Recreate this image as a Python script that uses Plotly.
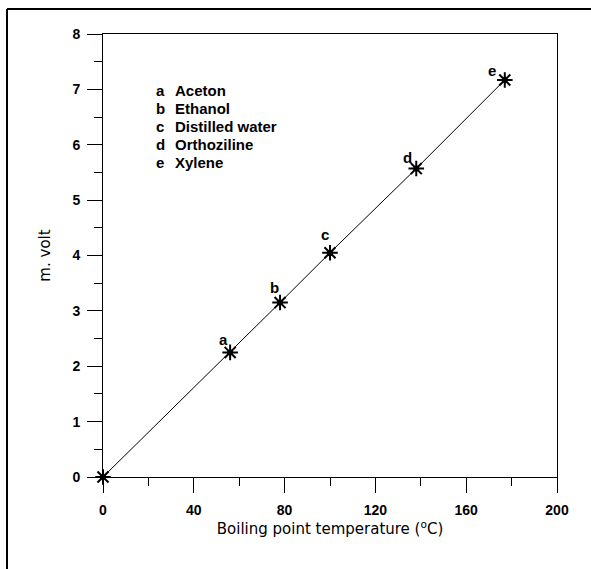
import plotly.graph_objects as go

# Boiling point (°C) against thermocouple output (mV)
temps = [0, 56, 78, 100, 138, 177]
mvolt = [0, 2.25, 3.15, 4.05, 5.57, 7.17]

# Point letters and the liquids they stand for
point_keys = ["a", "b", "c", "d", "e"]
point_x = temps[1:]
point_y = mvolt[1:]
key_shift_x = [-7, -6, -5, -9, -13]
key_shift_y = [13, 15, 18, 11, 9]
liquids = ["Aceton", "Ethanol", "Distilled water", "Orthoziline", "Xylene"]

x_ticks = [0, 40, 80, 120, 160, 200]
y_ticks = [0, 1, 2, 3, 4, 5, 6, 7, 8]

FONT = "Liberation Sans, Arial, sans-serif"

fig = go.Figure()

fig.add_trace(go.Scatter(
    x=temps, y=mvolt, mode="lines+markers",
    line=dict(color="black", width=1),
    marker=dict(symbol="asterisk-open", size=13, color="black",
                line=dict(color="black", width=2)),
    cliponaxis=False, showlegend=False, hoverinfo="skip",
))
fig.add_trace(go.Scatter(
    x=temps, y=mvolt, mode="markers",
    marker=dict(symbol="circle", size=6, color="black"),
    cliponaxis=False, showlegend=False, hoverinfo="skip",
))

# Letters beside each point
for k, x, y, dx, dy in zip(point_keys, point_x, point_y, key_shift_x, key_shift_y):
    fig.add_annotation(x=x, y=y, text=k, showarrow=False, xshift=dx, yshift=dy,
                       font=dict(family=FONT, size=15, color="black", weight="bold"))

# Key listing the liquids
for i, (k, name) in enumerate(zip(point_keys, liquids)):
    ypix = 90 + i * 18.2
    ypaper = (477 - ypix) / 443
    fig.add_annotation(x=(154 - 103) / 454, y=ypaper, xref="paper", yref="paper",
                       text=k, showarrow=False, xanchor="left", yanchor="middle",
                       font=dict(family=FONT, size=15, color="black", weight="bold"))
    fig.add_annotation(x=(173 - 103) / 454, y=ypaper, xref="paper", yref="paper",
                       text=name, showarrow=False, xanchor="left", yanchor="middle",
                       font=dict(family=FONT, size=15, color="black", weight="bold"))

# Outer frame (top and left edges)
fx = (7 - 103) / 454
fy = (477 - 9) / 443
fig.add_shape(type="line", xref="paper", yref="paper", x0=fx, y0=fy, x1=1.2, y1=fy,
              line=dict(color="black", width=2))
fig.add_shape(type="line", xref="paper", yref="paper", x0=fx, y0=fy, x1=fx, y1=-0.4,
              line=dict(color="black", width=2))

axis_common = dict(
    showgrid=False, zeroline=False, showline=True, linecolor="black", linewidth=1,
    mirror=True, ticks="outside", ticklen=15, tickwidth=1, tickcolor="black",
    tickfont=dict(family=FONT, size=14, color="black", weight="bold"),
)

fig.update_xaxes(
    range=[0, 200], tickvals=x_ticks, ticktext=[str(v) for v in x_ticks],
    minor=dict(ticks="outside", ticklen=8, dtick=20, tickcolor="black", tickwidth=1),
    ticklabelstandoff=5,
    title=dict(text="Boiling point temperature (<sup>o</sup>C)",
               font=dict(family="DejaVu Sans, sans-serif", size=15, color="black"),
               standoff=6),
    **axis_common,
)
fig.update_yaxes(
    range=[0, 8], tickvals=y_ticks, ticktext=[str(v) for v in y_ticks],
    minor=dict(ticks="outside", ticklen=8, dtick=0.5, tickcolor="black", tickwidth=1),
    ticklabelstandoff=4,
    title=dict(text="m. volt",
               font=dict(family="DejaVu Sans, sans-serif", size=15, color="black"),
               standoff=18),
    **axis_common,
)

fig.update_layout(
    width=591, height=569,
    margin=dict(l=103, r=34, t=34, b=92),
    paper_bgcolor="white", plot_bgcolor="white",
)

fig.write_html("out.html")
